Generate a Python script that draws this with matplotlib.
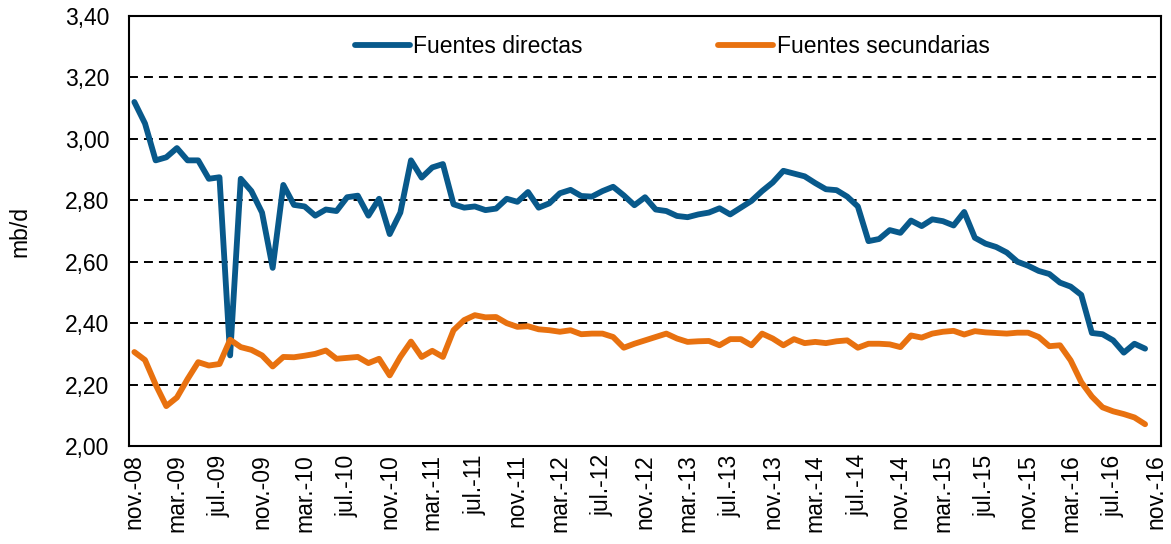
import matplotlib
matplotlib.use("Agg")
import matplotlib.pyplot as plt
import numpy as np

plt.rcParams['font.family'] = ['Liberation Sans', 'DejaVu Sans']

# monthly series, nov-08 .. oct-16 (mb/d)
directas = [
    3.12, 3.05, 2.93, 2.94, 2.97, 2.93, 2.93, 2.87, 2.875, 2.295,
    2.87, 2.83, 2.76, 2.58, 2.85, 2.785, 2.78, 2.75, 2.77, 2.765,
    2.81, 2.815, 2.75, 2.805, 2.69, 2.76, 2.93, 2.874, 2.907, 2.918,
    2.787, 2.776, 2.78, 2.768, 2.773, 2.805, 2.795, 2.827, 2.776, 2.79,
    2.823, 2.834, 2.814, 2.812, 2.83, 2.844, 2.816, 2.784, 2.81, 2.77,
    2.765, 2.749, 2.745, 2.754, 2.76, 2.774, 2.754, 2.776, 2.798, 2.83,
    2.858, 2.896, 2.887, 2.878, 2.856, 2.836, 2.833, 2.812, 2.78, 2.667,
    2.674, 2.703, 2.694, 2.734, 2.716, 2.738, 2.732, 2.718, 2.762, 2.678,
    2.659, 2.648, 2.63, 2.60, 2.587, 2.57, 2.56, 2.532, 2.519, 2.492,
    2.368, 2.364, 2.344, 2.304, 2.333, 2.317,
]
secundarias = [
    2.306, 2.28, 2.20, 2.13, 2.158, 2.218, 2.273, 2.262, 2.267, 2.346,
    2.322, 2.313, 2.295, 2.259, 2.29, 2.289, 2.294, 2.30, 2.311, 2.284,
    2.287, 2.29, 2.27, 2.284, 2.23, 2.29, 2.34, 2.29, 2.31, 2.29,
    2.377, 2.41, 2.426, 2.419, 2.42, 2.40, 2.388, 2.39, 2.38, 2.377,
    2.372, 2.377, 2.364, 2.366, 2.366, 2.355, 2.32, 2.333, 2.344, 2.355,
    2.366, 2.35, 2.339, 2.341, 2.342, 2.328, 2.348, 2.348, 2.328, 2.366,
    2.35, 2.328, 2.348, 2.335, 2.339, 2.335, 2.341, 2.344, 2.32, 2.333,
    2.333, 2.331, 2.322, 2.36, 2.353, 2.366, 2.372, 2.375, 2.363, 2.374,
    2.37, 2.368, 2.366, 2.369, 2.369, 2.355, 2.325, 2.328, 2.279, 2.208,
    2.161, 2.126, 2.113, 2.104, 2.093, 2.071,
]

x_labels = [
    "nov.-08", "mar.-09", "jul.-09", "nov.-09", "mar.-10", "jul.-10", "nov.-10",
    "mar.-11", "jul.-11", "nov.-11", "mar.-12", "jul.-12", "nov.-12", "mar.-13",
    "jul.-13", "nov.-13", "mar.-14", "jul.-14", "nov.-14", "mar.-15", "jul.-15",
    "nov.-15", "mar.-16", "jul.-16", "nov.-16",
]
y_ticks = [2.0, 2.2, 2.4, 2.6, 2.8, 3.0, 3.2, 3.4]
y_labels = ["2,00", "2,20", "2,40", "2,60", "2,80", "3,00", "3,20", "3,40"]

fs = 16.5

fig = plt.figure(figsize=(11.71, 5.44), dpi=100)
ax = fig.add_axes([0.1102, 0.1801, 0.8813, 0.7905])

months = np.arange(len(directas))
ax.plot(months, directas, color='#08598B', lw=4.2, solid_joinstyle='round',
        solid_capstyle='round', label='Fuentes directas', zorder=3)
ax.plot(months, secundarias, color='#E8710F', lw=4.2, solid_joinstyle='round',
        solid_capstyle='round', label='Fuentes secundarias', zorder=3)

ax.set_xlim(-0.5, 96.5)
ax.set_ylim(2.0, 3.4)
ax.set_xticks(np.arange(0, 97, 4))
ax.set_xticklabels(x_labels, rotation=90, fontsize=fs)
ax.set_yticks(y_ticks)
ax.set_yticklabels(y_labels, fontsize=fs)
ax.tick_params(axis='x', length=0, pad=6)
ax.tick_params(axis='y', length=0, pad=14)
ax.set_ylabel('mb/d', fontsize=fs, labelpad=24)

ax.yaxis.grid(True, color='black', lw=1.4, linestyle=(0, (4.6, 3.1)))
ax.set_axisbelow(True)
for s in ax.spines.values():
    s.set_linewidth(1.5)
    s.set_color('black')

leg = ax.legend(loc='center left', bbox_to_anchor=(0.219, 0.928), ncol=2,
                frameon=False, fontsize=fs, handlelength=2.4, borderpad=0,
                borderaxespad=0, handletextpad=0.15, columnspacing=5.9)

fig.savefig('out.png', dpi=100)
